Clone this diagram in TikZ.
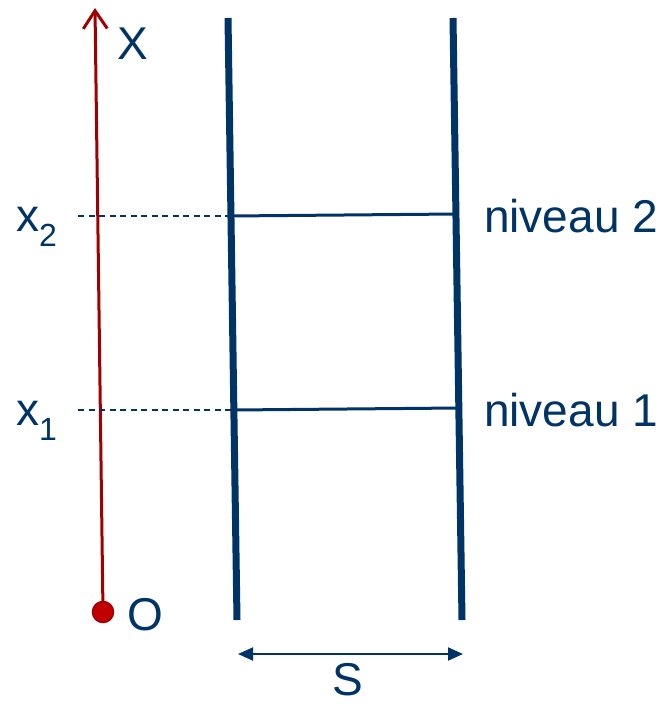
\documentclass[tikz,border=0pt]{standalone}
\usepackage{fontspec}
\setmainfont{Liberation Sans}
\usetikzlibrary{arrows.meta,positioning}
\definecolor{navy}{RGB}{0,51,102}
\definecolor{darkred}{RGB}{160,0,0}
\definecolor{dotred}{RGB}{192,0,0}
\newcommand{\sublabel}[2]{#1\raisebox{-0.33em}{\fontsize{32}{32}\selectfont #2}}

\begin{document}
\begin{tikzpicture}[
  x=1pt, y=-1pt,
  wall/.style={draw=navy, line width=7pt},
  level/.style={draw=navy, line width=3pt},
  guide/.style={draw=navy, line width=1.4pt, dash pattern=on 6pt off 4.5pt},
  axis/.style={draw=darkred, line width=3pt, -{Straight Barb[length=18pt, width=24pt, line width=3pt]}},
  measure/.style={draw=navy, line width=2pt, {Triangle[length=15pt, width=13pt]}-{Triangle[length=15pt, width=13pt]}},
  label/.style={text=navy, font=\fontsize{46}{46}\selectfont, inner sep=0pt}
]
  \useasboundingbox (0,0) rectangle (666,706);

  % axis
  \coordinate (O) at (103,612);
  \coordinate (Xtop) at (95,8);
  \draw[axis] (O) -- (Xtop);
  \filldraw[fill=dotred, draw=darkred, line width=1.5pt] (O) circle (10.5pt);
  \node[label, anchor=base west] (Xlab) at (117,60) {X};
  \node[label, anchor=base west] (Olab) at (127,630) {O};

  % walls
  \coordinate (lt) at (228,18);
  \coordinate (lb) at (237,620);
  \coordinate (rt) at (453,18);
  \coordinate (rb) at (462,620);
  \draw[wall] (lt) -- (lb);
  \draw[wall] (rt) -- (rb);

  % levels
  \coordinate (n2a) at (231,216);
  \coordinate (n2b) at (457,214);
  \coordinate (n1a) at (234,410);
  \coordinate (n1b) at (459,408);
  \draw[level] (n2a) -- (n2b);
  \draw[level] (n1a) -- (n1b);
  \node[label, anchor=base west] (niv2) at (484,232) {niveau 2};
  \node[label, anchor=base west] (niv1) at (484,426) {niveau 1};

  % heights
  \coordinate (g2) at (78,216);
  \coordinate (g1) at (78,410);
  \draw[guide] (g2) -- (n2a);
  \draw[guide] (g1) -- (n1a);
  \node[label, anchor=base west] (x2) at (16,231) {\sublabel{x}{2}};
  \node[label, anchor=base west] (x1) at (16,425) {\sublabel{x}{1}};

  % section
  \coordinate (sa) at (238,654);
  \coordinate (sb) at (463,654);
  \draw[measure] (sa) -- (sb);
  \node[label, anchor=base] (Slab) at (348,695) {S};
\end{tikzpicture}
\end{document}
